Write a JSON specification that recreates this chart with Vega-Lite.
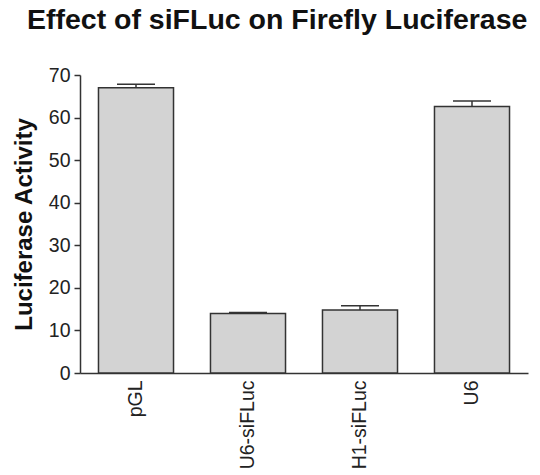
{
  "$schema": "https://vega.github.io/schema/vega-lite/v6.json",
  "autosize": "none",
  "width": 448,
  "height": 298,
  "padding": {"left": 80, "top": 75, "right": 12, "bottom": 102},
  "background": "white",
  "title": {
    "text": "Effect of siFLuc on Firefly Luciferase",
    "font": "Liberation Sans",
    "fontSize": 28.5,
    "fontWeight": "bold",
    "color": "#111111",
    "anchor": "middle",
    "frame": "bounds",
    "offset": 31,
    "dx": 7
  },
  "data": {
    "values": [
      {"group": "pGL", "value": 67.0, "upper": 67.8},
      {"group": "U6-siFLuc", "value": 14.0, "upper": 14.2},
      {"group": "H1-siFLuc", "value": 14.8, "upper": 15.8},
      {"group": "U6", "value": 62.6, "upper": 63.9}
    ]
  },
  "encoding": {
    "x": {
      "field": "group",
      "type": "nominal",
      "sort": null,
      "scale": {"paddingInner": 0.33, "paddingOuter": 0.165},
      "axis": {
        "title": null,
        "labelAngle": -90,
        "labelAlign": "right",
        "labelBaseline": "middle",
        "labelFont": "Liberation Sans",
        "labelFontSize": 19.5,
        "labelColor": "#222222",
        "labelPadding": 7,
        "ticks": false,
        "domainColor": "#333333",
        "domainWidth": 1.5,
        "grid": false
      }
    }
  },
  "layer": [
    {
      "mark": {"type": "bar", "fill": "#d3d3d3", "stroke": "#333333", "strokeWidth": 1.5},
      "encoding": {
        "y": {
          "field": "value",
          "type": "quantitative",
          "scale": {"domain": [0, 70], "nice": false},
          "axis": {
            "title": "Luciferase Activity",
            "titleFont": "Liberation Sans",
            "titleFontSize": 24,
            "titleFontWeight": "bold",
            "titleColor": "#111111",
            "titlePadding": 12,
            "values": [0, 10, 20, 30, 40, 50, 60, 70],
            "labelFont": "Liberation Sans",
            "labelFontSize": 19.5,
            "labelColor": "#222222",
            "labelPadding": 4,
            "tickSize": 6,
            "tickColor": "#333333",
            "tickWidth": 1.5,
            "domainColor": "#333333",
            "domainWidth": 1.5,
            "grid": false
          }
        }
      }
    },
    {
      "mark": {"type": "rule", "stroke": "#333333", "strokeWidth": 1.5},
      "encoding": {
        "y": {"field": "value", "type": "quantitative"},
        "y2": {"field": "upper"}
      }
    },
    {
      "mark": {"type": "tick", "color": "#333333", "size": 38, "thickness": 1.5, "opacity": 1},
      "encoding": {
        "y": {"field": "upper", "type": "quantitative"}
      }
    }
  ],
  "config": {"view": {"stroke": null}}
}
